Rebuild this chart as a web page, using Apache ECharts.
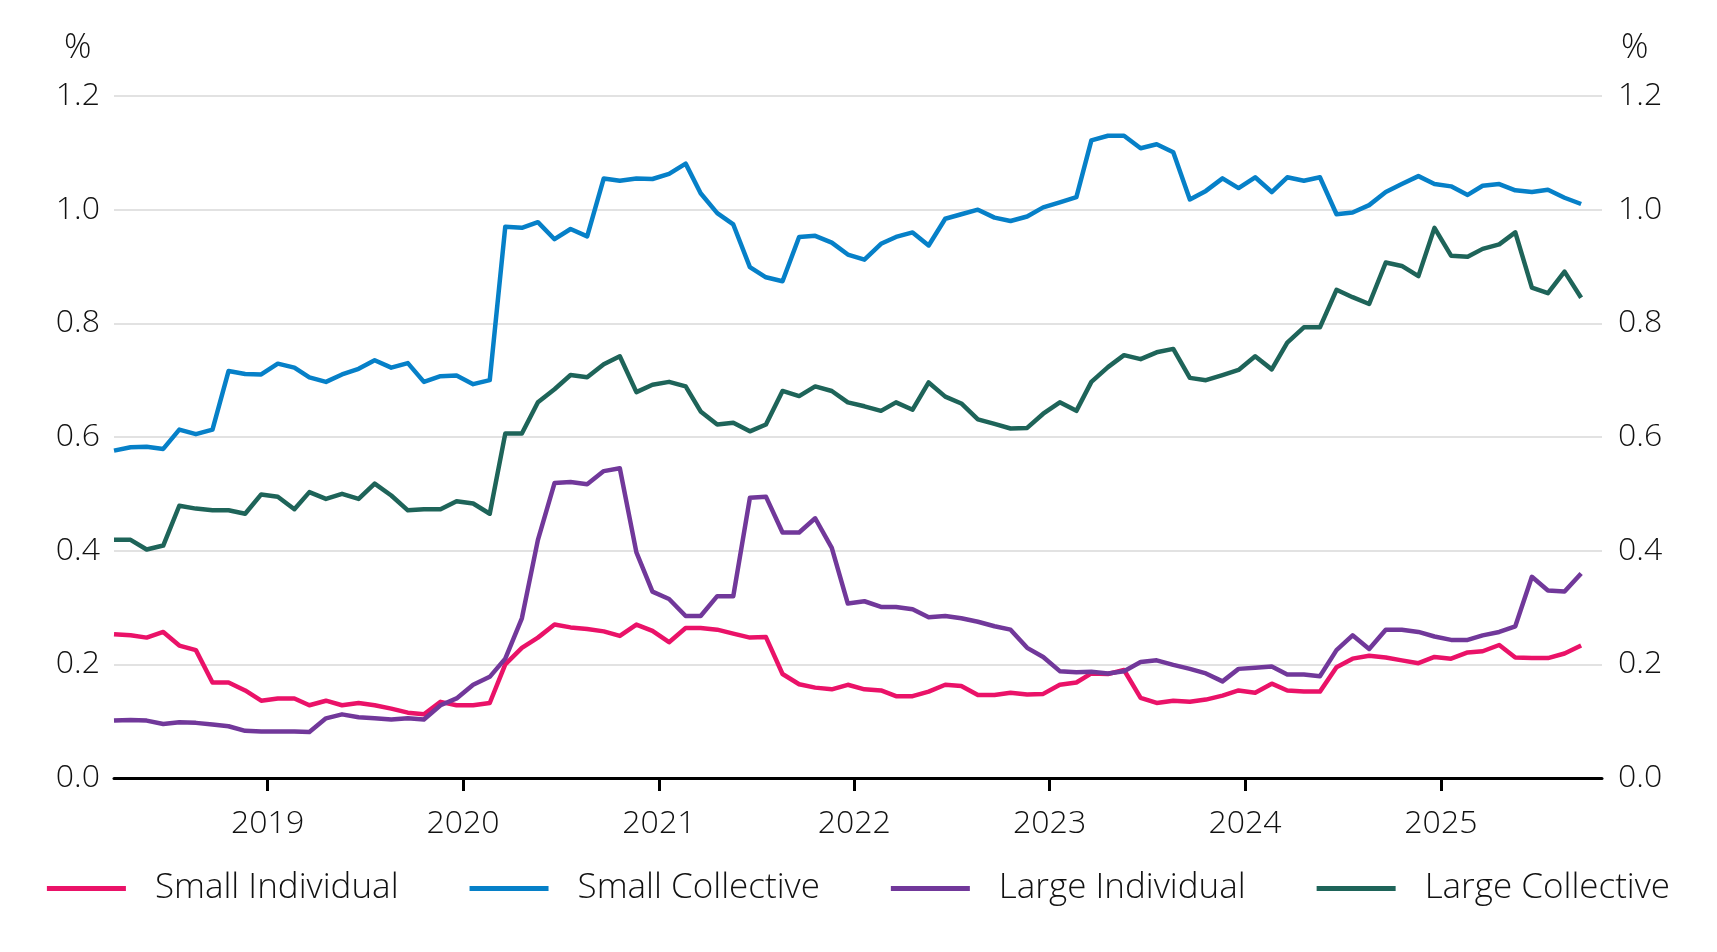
<!DOCTYPE html>
<html>
<head>
<meta charset="utf-8">
<script src="https://cdn.jsdelivr.net/npm/echarts@6/dist/echarts.min.js"></script>
<style>
  html, body { margin: 0; padding: 0; background: #fff; }
  #chart { width: 1717px; height: 952px; }
</style>
</head>
<body>
<div id="chart"></div>
<script>
// monthly observations, Mar 2018 .. Sep 2025
const startYear = 2018, startMonth = 3, monthCount = 91;
const tickYears = [2019, 2020, 2021, 2022, 2023, 2024, 2025];

const smallIndividual = [
  0.253, 0.251, 0.247, 0.257, 0.233, 0.225, 0.168, 0.168, 0.154, 0.136,
  0.140, 0.140, 0.128, 0.136, 0.128, 0.132, 0.128, 0.122, 0.115, 0.112,
  0.134, 0.128, 0.128, 0.132, 0.200, 0.229, 0.247, 0.270, 0.265, 0.262,
  0.258, 0.250, 0.270, 0.259, 0.239, 0.264, 0.264, 0.261, 0.254, 0.247,
  0.248, 0.183, 0.165, 0.159, 0.156, 0.164, 0.156, 0.154, 0.144, 0.144,
  0.152, 0.164, 0.162, 0.146, 0.146, 0.150, 0.147, 0.148, 0.164, 0.168,
  0.184, 0.183, 0.190, 0.141, 0.132, 0.136, 0.134, 0.138, 0.145, 0.154,
  0.150, 0.166, 0.154, 0.152, 0.152, 0.195, 0.210, 0.215, 0.212, 0.207,
  0.202, 0.213, 0.210, 0.221, 0.223, 0.234, 0.212, 0.211, 0.211, 0.219,
  0.233
];
const smallCollective = [
  0.576, 0.582, 0.583, 0.579, 0.613, 0.605, 0.613, 0.716, 0.711, 0.710,
  0.729, 0.722, 0.705, 0.697, 0.710, 0.720, 0.735, 0.722, 0.730, 0.697,
  0.707, 0.708, 0.693, 0.700, 0.970, 0.968, 0.978, 0.948, 0.966, 0.953,
  1.055, 1.051, 1.055, 1.054, 1.063, 1.081, 1.029, 0.994, 0.974, 0.899,
  0.881, 0.874, 0.952, 0.954, 0.942, 0.921, 0.912, 0.940, 0.952, 0.960,
  0.937, 0.984, 0.992, 1.000, 0.986, 0.980, 0.988, 1.004, 1.013, 1.022,
  1.122, 1.130, 1.130, 1.108, 1.115, 1.101, 1.018, 1.033, 1.055, 1.038,
  1.057, 1.031, 1.057, 1.051, 1.057, 0.992, 0.995, 1.008, 1.031, 1.045,
  1.059, 1.045, 1.041, 1.026, 1.042, 1.045, 1.034, 1.031, 1.035, 1.021,
  1.010
];
const largeIndividual = [
  0.101, 0.102, 0.101, 0.095, 0.098, 0.097, 0.094, 0.091, 0.083, 0.082,
  0.082, 0.082, 0.081, 0.105, 0.112, 0.107, 0.105, 0.103, 0.105, 0.103,
  0.128, 0.140, 0.164, 0.178, 0.210, 0.281, 0.419, 0.519, 0.521, 0.517,
  0.540, 0.545, 0.397, 0.328, 0.315, 0.285, 0.285, 0.320, 0.320, 0.493,
  0.495, 0.432, 0.432, 0.457, 0.405, 0.307, 0.311, 0.301, 0.301, 0.297,
  0.283, 0.285, 0.281, 0.275, 0.267, 0.261, 0.229, 0.213, 0.188, 0.186,
  0.187, 0.184, 0.188, 0.204, 0.207, 0.199, 0.192, 0.184, 0.170, 0.192,
  0.194, 0.196, 0.182, 0.182, 0.179, 0.225, 0.251, 0.227, 0.261, 0.261,
  0.257, 0.249, 0.243, 0.243, 0.251, 0.257, 0.267, 0.354, 0.330, 0.328,
  0.360
];
const largeCollective = [
  0.419, 0.419, 0.402, 0.409, 0.479, 0.474, 0.471, 0.471, 0.465, 0.499,
  0.495, 0.473, 0.503, 0.491, 0.500, 0.491, 0.518, 0.497, 0.471, 0.473,
  0.473, 0.487, 0.483, 0.465, 0.606, 0.606, 0.661, 0.684, 0.709, 0.705,
  0.728, 0.742, 0.679, 0.692, 0.697, 0.689, 0.645, 0.622, 0.625, 0.610,
  0.622, 0.681, 0.672, 0.689, 0.681, 0.661, 0.654, 0.646, 0.661, 0.648,
  0.696, 0.671, 0.659, 0.631, 0.623, 0.615, 0.616, 0.641, 0.661, 0.646,
  0.697, 0.723, 0.744, 0.737, 0.749, 0.755, 0.704, 0.700, 0.709, 0.718,
  0.742, 0.719, 0.766, 0.793, 0.793, 0.859, 0.846, 0.834, 0.907, 0.901,
  0.883, 0.968, 0.919, 0.917, 0.931, 0.939, 0.960, 0.863, 0.853, 0.891,
  0.845
];

const seriesNames = ['Small Individual', 'Small Collective', 'Large Individual', 'Large Collective'];
const seriesColors = ['#EA1268', '#0680C8', '#71389A', '#1E6459'];
const seriesValues = [smallIndividual, smallCollective, largeIndividual, largeCollective];

// monthly timestamps (UTC), dated late in the month
const months = [];
for (let k = 0; k < monthCount; k++) {
  months.push(Date.UTC(startYear, startMonth - 1 + k, 20));
}
const yearTicks = tickYears.map(function (y) { return Date.UTC(y, 0, 1); });
const xMax = Date.UTC(2025, 9, 29);

const FONT = "'Open Sans', 'Noto Sans', sans-serif";
const txt = { fontFamily: FONT, fontSize: 32, fontWeight: 300, color: '#111' };

const chart = echarts.init(document.getElementById('chart'), null, { renderer: 'canvas' });

chart.setOption({
  animation: false,
  color: seriesColors,
  grid: { left: 114, right: 115, top: 96, bottom: 174 },
  legend: {
    bottom: 41,
    left: 'center',
    icon: 'rect',
    itemWidth: 79,
    itemHeight: 5,
    itemGap: 71,
    textStyle: Object.assign({}, txt, { fontSize: 35, padding: [0, 0, 0, 24] }),
    data: seriesNames
  },
  graphic: [
    { type: 'text', left: 64, top: 31, style: { text: '%', font: '300 34px ' + FONT, fill: '#111' } },
    { type: 'text', left: 1621, top: 31, style: { text: '%', font: '300 34px ' + FONT, fill: '#111' } }
  ],
  xAxis: {
    type: 'value',
    min: months[0],
    max: xMax,
    axisLine: { show: true, lineStyle: { color: '#000', width: 3 } },
    axisTick: { show: true, length: 13, lineStyle: { color: '#000', width: 3 }, customValues: yearTicks },
    axisLabel: Object.assign({}, txt, {
      margin: 30,
      customValues: yearTicks,
      formatter: function (v) { return String(new Date(v).getUTCFullYear()); }
    }),
    splitLine: { show: false }
  },
  yAxis: [
    {
      type: 'value', min: 0, max: 1.2, interval: 0.2,
      axisLine: { show: false }, axisTick: { show: false },
      axisLabel: Object.assign({}, txt, { margin: 14, formatter: function (v) { return v.toFixed(1); } }),
      splitLine: { show: true, lineStyle: { color: '#d9d9d9', width: 1.5 } }
    },
    {
      type: 'value', min: 0, max: 1.2, interval: 0.2, position: 'right',
      axisLine: { show: false }, axisTick: { show: false },
      axisLabel: Object.assign({}, txt, { margin: 16, formatter: function (v) { return v.toFixed(1); } }),
      splitLine: { show: false }
    }
  ],
  series: seriesNames.map(function (name, s) {
    return {
      name: name,
      type: 'line',
      showSymbol: false,
      symbol: 'none',
      lineStyle: { width: 4.5, color: seriesColors[s], join: 'round' },
      itemStyle: { color: seriesColors[s] },
      data: months.map(function (d, k) { return [d, seriesValues[s][k]]; })
    };
  })
});
</script>
</body>
</html>
